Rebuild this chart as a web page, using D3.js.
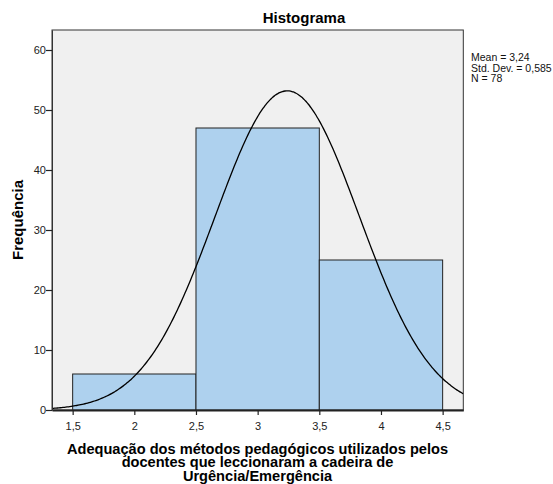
<!DOCTYPE html>
<html><head><meta charset="utf-8">
<script src="https://cdn.jsdelivr.net/npm/d3@7"></script>
<style>body{margin:0;background:#fff}svg{display:block;font-family:"Liberation Sans",Arial,sans-serif}</style>
</head><body>
<script>
const binStarts = [1.5, 2.5, 3.5];
const binEnds = [2.5, 3.5, 4.5];
const counts = [6, 47, 25];
const xTicks = [1.5, 2, 2.5, 3, 3.5, 4, 4.5];
const yTicks = [0, 10, 20, 30, 40, 50, 60];
const mean = 3.24, sd = 0.585, n = 78;
const statLines = ["Mean = 3,24", "Std. Dev. = 0,585", "N = 78"];
const title = "Histograma";
const yLabel = "Frequência";
const xLabelLines = ["Adequação dos métodos pedagógicos utilizados pelos", "docentes que leccionaram a cadeira de", "Urgência/Emergência"];

const W = 553, H = 484;
const L = 52, R = 463.3, T = 30, B = 410;
const svg = d3.select("body").append("svg").attr("width", W).attr("height", H);
const x = d3.scaleLinear().domain([1.3325, 4.6675]).range([L, R]);
const y = d3.scaleLinear().domain([0, 63.333]).range([B, T]);
const fmt = d => String(d).replace(".", ",");

svg.append("rect").attr("x", L).attr("y", T).attr("width", R - L).attr("height", B - T)
  .attr("fill", "#f0f0f0").attr("stroke", "#333").attr("stroke-width", 1);

svg.selectAll("rect.bar").data(counts).enter().append("rect").attr("class", "bar")
  .attr("x", (d, i) => x(binStarts[i])).attr("width", (d, i) => x(binEnds[i]) - x(binStarts[i]))
  .attr("y", d => y(d)).attr("height", d => y(0) - y(d))
  .attr("fill", "#aed1ee").attr("stroke", "#222").attr("stroke-width", 1);

const pdf = v => n * 1 * Math.exp(-0.5 * ((v - mean) / sd) ** 2) / (sd * Math.sqrt(2 * Math.PI));
const pts = d3.range(0, 301).map(i => { const v = x.domain()[0] + (x.domain()[1] - x.domain()[0]) * i / 300; return [v, pdf(v)]; });
svg.append("defs").append("clipPath").attr("id", "c").append("rect").attr("x", L).attr("y", T).attr("width", R - L).attr("height", B - T);
svg.append("path").attr("clip-path", "url(#c)").datum(pts)
  .attr("d", d3.line().x(d => x(d[0])).y(d => y(d[1])).curve(d3.curveBasis))
  .attr("fill", "none").attr("stroke", "#000").attr("stroke-width", 1.3);

const xa = svg.append("g").attr("transform", `translate(0,${B})`)
  .call(d3.axisBottom(x).tickValues(xTicks).tickFormat(fmt).tickSize(5).tickSizeOuter(0));
xa.select(".domain").attr("stroke", "#222").attr("stroke-width", 2);
xa.selectAll("line").attr("stroke", "#222").attr("stroke-width", 1.2);
xa.selectAll("text").attr("font-size", 11).attr("fill", "#222").attr("dy", "1.05em").attr("font-family", "Liberation Sans, Arial, sans-serif");

const ya = svg.append("g").attr("transform", `translate(${L},0)`)
  .call(d3.axisLeft(y).tickValues(yTicks).tickSize(6).tickSizeOuter(0));
ya.select(".domain").attr("stroke", "#333");
ya.selectAll("line").attr("stroke", "#222").attr("stroke-width", 1.2);
ya.selectAll("text").attr("font-size", 11).attr("fill", "#222").attr("x", -6).attr("font-family", "Liberation Sans, Arial, sans-serif");

svg.append("text").attr("x", 304).attr("y", 23).attr("text-anchor", "middle")
  .attr("font-size", 15).attr("font-weight", "bold").text(title);

svg.append("text").attr("transform", "translate(23,220) rotate(-90)").attr("text-anchor", "middle")
  .attr("font-size", 15).attr("font-weight", "bold").text(yLabel);

xLabelLines.forEach((s, i) => svg.append("text").attr("x", 257.5).attr("y", 454 + i * 13.3)
  .attr("text-anchor", "middle").attr("font-size", 14.6).attr("font-weight", "bold").text(s));

statLines.forEach((s, i) => svg.append("text").attr("x", 471).attr("y", 61 + i * 10.5)
  .attr("font-size", 10.5).attr("fill", "#111").text(s));
</script>
</body></html>
